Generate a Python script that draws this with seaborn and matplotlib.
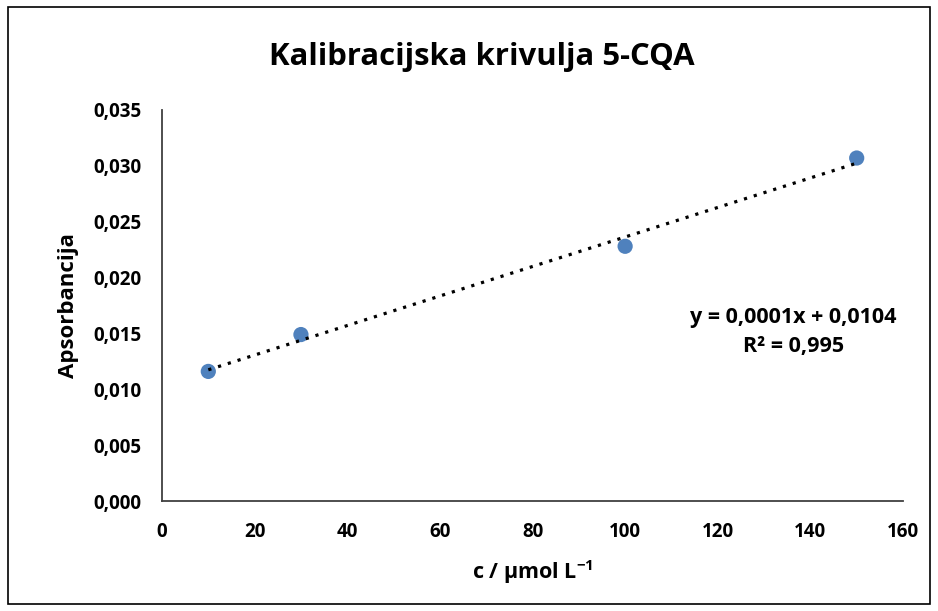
import numpy as np
import pandas as pd
import matplotlib
matplotlib.use("Agg")
import matplotlib.pyplot as plt
import seaborn as sns
from matplotlib.ticker import FuncFormatter, MultipleLocator

# podaci za kalibraciju
koncentracija = [10, 30, 100, 150]
apsorbancija = [0.0116, 0.0149, 0.0228, 0.0307]
jednadzba = "y = 0,0001x + 0,0104"
r2 = "R² = 0,995"

data = pd.DataFrame({"c": koncentracija, "A": apsorbancija})

sns.set_theme(style="white")
plt.rcParams['font.family'] = ['Open Sans', 'DejaVu Sans']
plt.rcParams['font.weight'] = 'bold'
plt.rcParams['text.color'] = 'black'
plt.rcParams['axes.labelcolor'] = 'black'
plt.rcParams['mathtext.fontset'] = 'custom'
plt.rcParams['mathtext.bf'] = 'Open Sans:bold'

fig = plt.figure(figsize=(9.38, 6.11), dpi=100)
ax = fig.add_axes([0.1727, 0.18, 0.79, 0.64])

sns.regplot(x="c", y="A", data=data, ci=None, ax=ax,
            scatter_kws={"s": 120, "color": "#4F81BD", "edgecolor": "none", "alpha": 1, "zorder": 2},
            line_kws={"color": "black", "linestyle": (0, (1, 2.2)), "linewidth": 2.3, "zorder": 3})

ax.set_xlim(0, 160)
ax.set_ylim(0, 0.035)
ax.xaxis.set_major_locator(MultipleLocator(20))
ax.yaxis.set_major_locator(MultipleLocator(0.005))
ax.yaxis.set_major_formatter(FuncFormatter(lambda v, p: f"{v:.3f}".replace(".", ",")))
ax.tick_params(axis="both", length=0, labelsize=13.5, pad=15, colors="black")
for lab in ax.get_xticklabels() + ax.get_yticklabels():
    lab.set_fontweight("bold")

for s in ["top", "right"]:
    ax.spines[s].set_visible(False)
for s in ["left", "bottom"]:
    ax.spines[s].set_color("#404040")
    ax.spines[s].set_linewidth(1.3)

ax.set_xlabel("c / µmol L$^{\\mathbf{-1}}$", fontsize=15.5, fontweight="bold", labelpad=12)
ax.set_ylabel("Apsorbancija", fontsize=16, fontweight="bold", labelpad=10)
fig.suptitle("Kalibracijska krivulja 5-CQA", fontsize=22.4, fontweight="bold", x=0.514, y=0.932)

ax.text(0.852, 0.432, jednadzba + "\n" + r2, transform=ax.transAxes,
        ha="center", va="center", fontsize=15.5, fontweight="bold", linespacing=1.45)

# okvir grafikona
fig.patches.append(plt.Rectangle((0.008, 0.012), 0.984, 0.976, transform=fig.transFigure,
                                 fill=False, edgecolor="black", linewidth=1.2))

fig.savefig("out.png", dpi=100)
